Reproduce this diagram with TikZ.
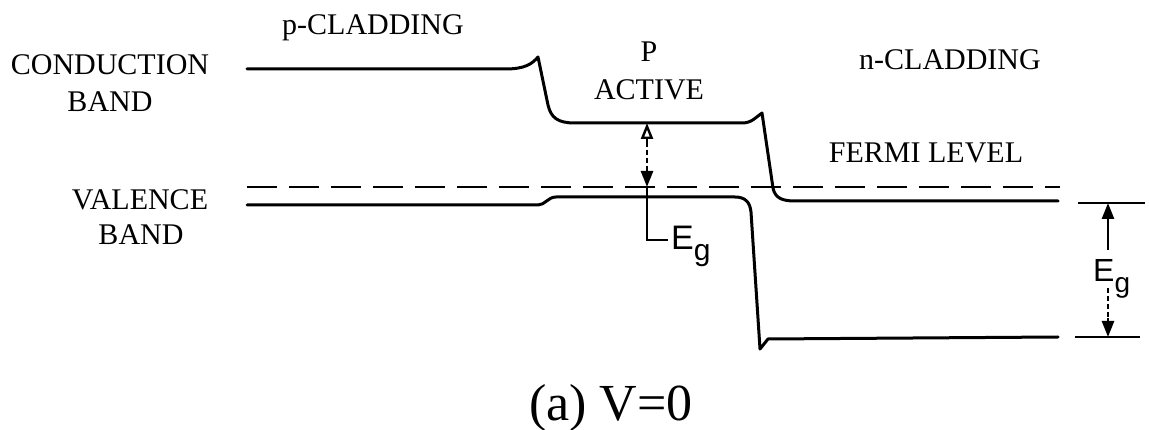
\documentclass[tikz,border=0pt]{standalone}
\usepackage{fontspec}
\setmainfont{Liberation Serif}
\newfontfamily\egfont{Liberation Sans}
\usetikzlibrary{arrows.meta}
\tikzset{
  lbl/.style={inner sep=0pt, anchor=base, font=\fontsize{30}{34}\selectfont},
  captionlbl/.style={inner sep=0pt, anchor=base, font=\fontsize{52}{56}\selectfont},
  eglbl/.style={inner sep=0pt, anchor=base west},
  band/.style={line width=3pt, line join=round, line cap=round},
  fermi/.style={line width=2.6pt, dash pattern=on 30pt off 12pt},
  egline/.style={line width=2.6pt},
  tip/.style={-{Triangle[length=16pt,width=12pt]}},
  otip/.style={-{Triangle[open,length=16pt,width=12pt,line width=2.4pt]}},
}
\newcommand{\egtext}[2]{{\egfont\fontsize{#1}{#1}\selectfont E\raisebox{-11pt}{\fontsize{#2}{#2}\selectfont g}}}
\begin{document}
\begin{tikzpicture}[x=1pt,y=-1pt]
\useasboundingbox (0,0) rectangle (1149,430);
% labels
\node[lbl] (pclad) at (373,35) {p-CLADDING};
\node[lbl] (cond1) at (110,75) {CONDUCTION};
\node[lbl] (cond2) at (110,112) {BAND};
\node[lbl] (pact1) at (649,62) {P};
\node[lbl] (pact2) at (649,100) {ACTIVE};
\node[lbl] (nclad) at (950,70) {n-CLADDING};
\node[lbl] (fermi) at (926,163) {FERMI LEVEL};
\node[lbl] (val1) at (140,210) {VALENCE};
\node[lbl] (val2) at (141,245) {BAND};
\node[captionlbl] (caption) at (611,420) {(a) V=0};
% bands
\draw[band] (247,69) -- (505,69) .. controls (525,69) and (532,64) .. (538,57)
  -- (548,105) .. controls (551,118) and (558,123) .. (575,123) -- (742,123)
  .. controls (752,123) and (756,117) .. (762,113) -- (773,188)
  .. controls (775,198) and (782,201) .. (795,201) -- (1058,201);
\draw[fermi] (247,187) -- (1060,187);
\draw[band] (247,205) -- (538,205) .. controls (545,205) and (548,197) .. (556,197)
  -- (735,197) .. controls (745,197) and (750,202) .. (751,212)
  -- (760,349) -- (768,339) -- (1058,337);
% middle Eg
\coordinate (m1) at (647,123);
\coordinate (m2) at (647,187);
\coordinate (m3) at (647,240);
\coordinate (m4) at (668,240);
\draw[egline, dash pattern=on 5pt off 3pt] (647,142) -- (647,170);
\draw[egline, otip] (647,143) -- (m1);
\draw[egline, tip] (647,168) -- (m2);
\draw[egline] (m2) -- (m3) -- (m4);
\node[eglbl] (eg1) at (671,250) {\egtext{34}{30}};
% right Eg
\coordinate (t1) at (1078,203);
\coordinate (t2) at (1145,203);
\coordinate (b1) at (1075,337);
\coordinate (b2) at (1140,337);
\coordinate (ra) at (1108,203);
\coordinate (rb) at (1108,337);
\draw[egline] (t1) -- (t2);
\draw[egline] (b1) -- (b2);
\draw[egline, tip] (1108,250) -- (ra);
\draw[egline, dash pattern=on 5pt off 3pt] (1108,288) -- (1108,322);
\draw[egline, tip] (1108,318) -- (rb);
\node[eglbl] (eg2) at (1093,282) {\egtext{32}{28}};
\end{tikzpicture}
\end{document}
